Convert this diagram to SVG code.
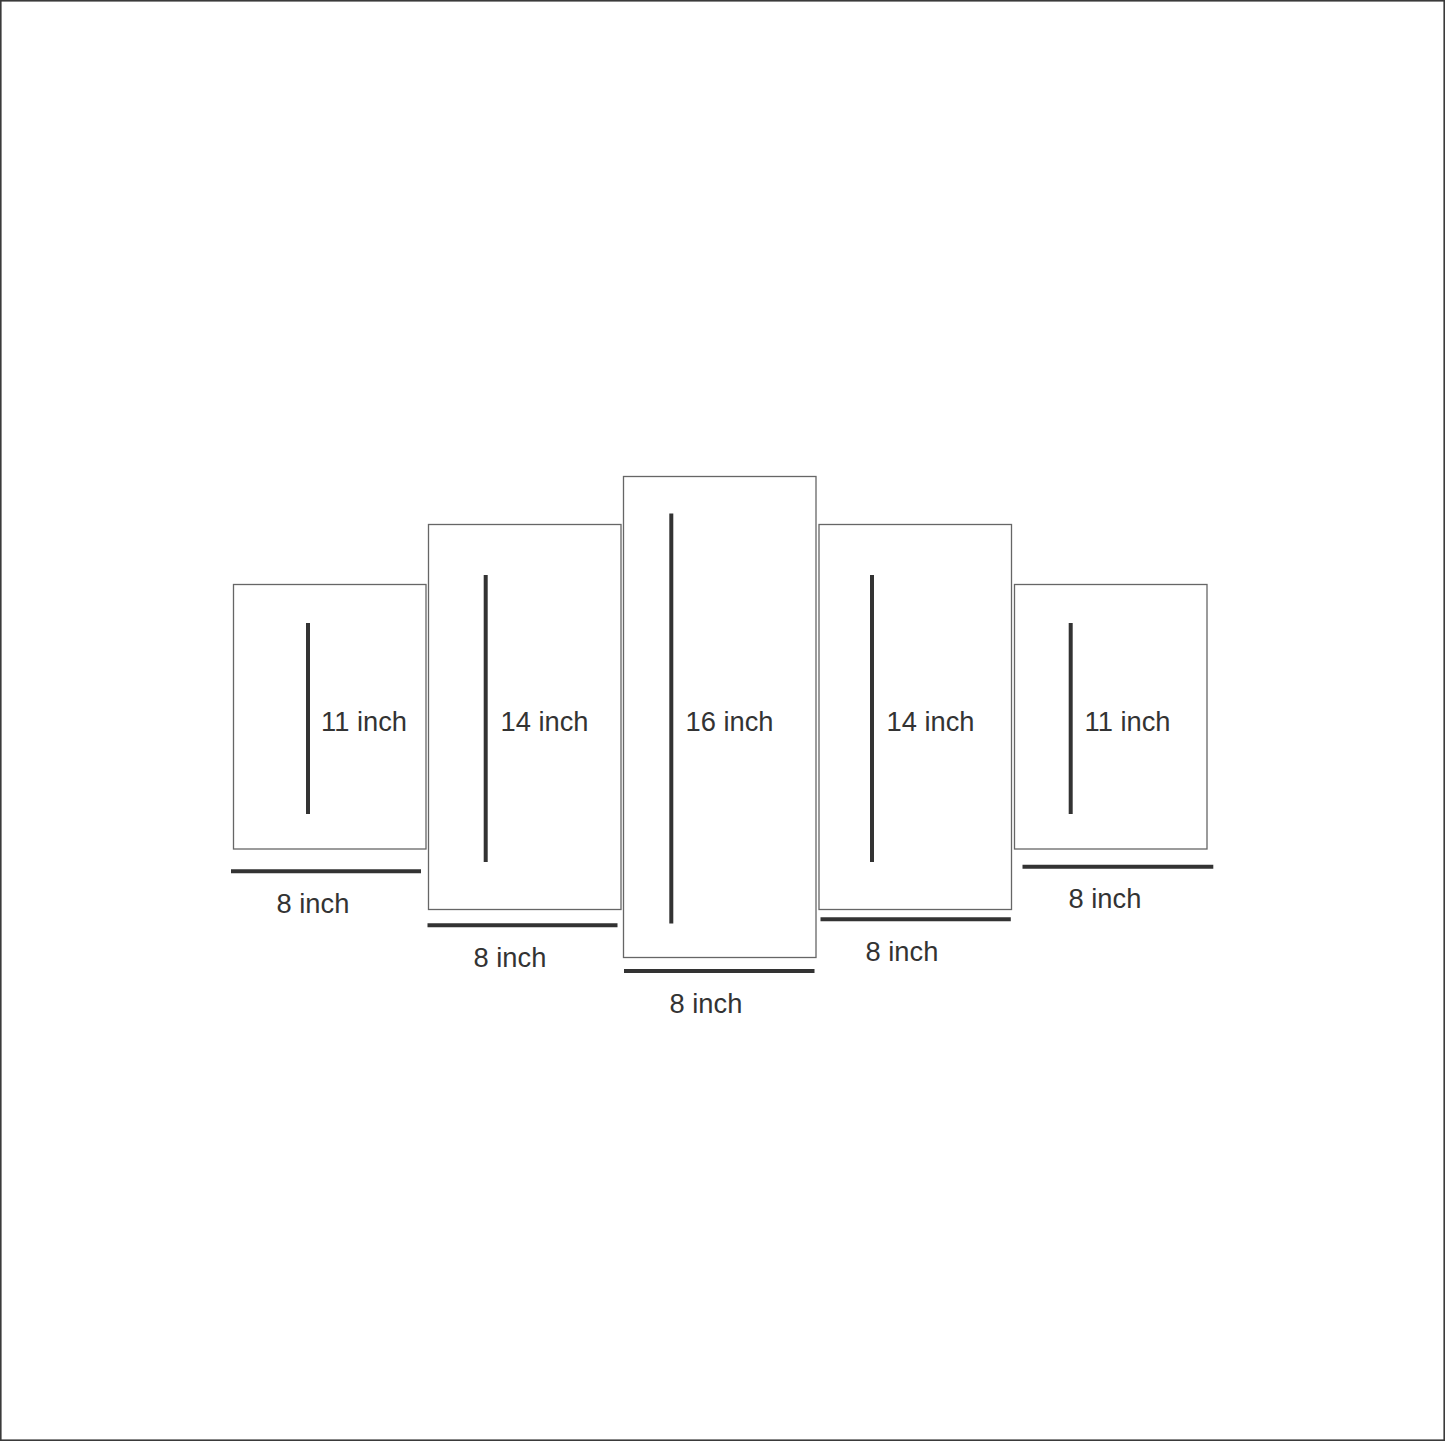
<svg xmlns="http://www.w3.org/2000/svg" width="1445" height="1441" viewBox="0 0 1445 1441">
<style>
.frame{fill:#fff;stroke:#3a3a3a;stroke-width:1.6}
.panel{fill:#fff;stroke:#666;stroke-width:1.3}
.dim{stroke:#333;stroke-width:4;fill:none}
.lbl{font-family:"Liberation Sans",Arial,sans-serif;font-size:27.3px;fill:#333}
</style>
<rect class="frame" x="0.8" y="0.8" width="1443.4" height="1439.4"/>
<g id="panel1">
<rect class="panel" x="233.5" y="584.5" width="192.5" height="264.5"/>
<text class="lbl" x="321" y="731">11 inch</text>
<text class="lbl" x="276.5" y="913">8 inch</text>
</g>
<g id="panel2">
<rect class="panel" x="428.5" y="524.5" width="192.5" height="385"/>
<text class="lbl" x="500.5" y="731">14 inch</text>
<text class="lbl" x="473.5" y="967">8 inch</text>
</g>
<g id="panel3">
<rect class="panel" x="623.5" y="476.5" width="192.5" height="481"/>
<text class="lbl" x="685.5" y="731">16 inch</text>
<text class="lbl" x="669.5" y="1013">8 inch</text>
</g>
<g id="panel4">
<rect class="panel" x="819" y="524.5" width="192.5" height="385"/>
<text class="lbl" x="886.5" y="731">14 inch</text>
<text class="lbl" x="865.5" y="961">8 inch</text>
</g>
<g id="panel5">
<rect class="panel" x="1014.5" y="584.5" width="192.5" height="264.5"/>
<text class="lbl" x="1084.5" y="731">11 inch</text>
<text class="lbl" x="1068.5" y="908">8 inch</text>
</g>
<g id="connectors">
<line class="dim" x1="308" y1="623" x2="308" y2="814"/>
<line class="dim" x1="231" y1="871.3" x2="421" y2="871.3"/>
<line class="dim" x1="485.7" y1="575" x2="485.7" y2="862"/>
<line class="dim" x1="427.5" y1="925.3" x2="617.5" y2="925.3"/>
<line class="dim" x1="671.3" y1="513.5" x2="671.3" y2="923.5"/>
<line class="dim" x1="624" y1="971" x2="814.5" y2="971"/>
<line class="dim" x1="872" y1="575" x2="872" y2="862"/>
<line class="dim" x1="820.5" y1="919.3" x2="1010.8" y2="919.3"/>
<line class="dim" x1="1070.7" y1="623" x2="1070.7" y2="814"/>
<line class="dim" x1="1022.5" y1="866.7" x2="1213.3" y2="866.7"/>
</g>
</svg>
